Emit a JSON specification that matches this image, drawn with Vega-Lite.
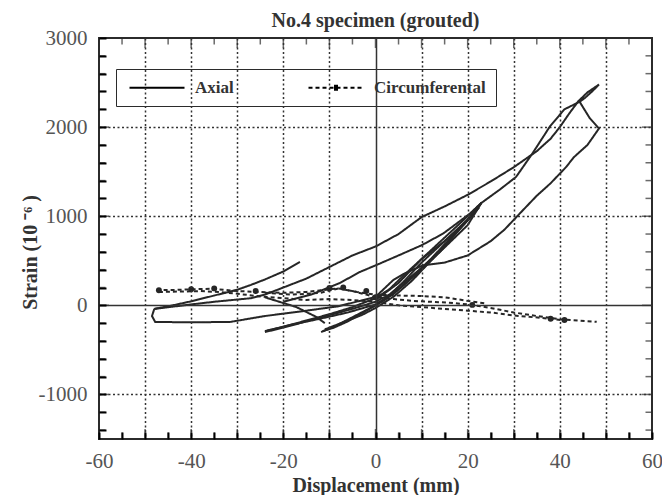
{
"$schema": "https://vega.github.io/schema/vega-lite/v6.json",
"width": 553, "height": 401,
"autosize": "none",
"padding": {"left": 99, "top": 38, "right": 10, "bottom": 56},
"background": "white",
"config": {"view": {"stroke": "#2b2b2b", "strokeWidth": 2}, "font": "Liberation Serif"},
"title": {"text": "No.4 specimen (grouted)", "font": "Liberation Serif", "fontSize": 20, "fontWeight": "bold", "color": "#333", "anchor": "middle", "offset": -4},
"datasets": {
"curves": [
{"s":"Axial","g":"a1","i":1,"x":-48,"y":-40},{"s":"Axial","g":"a1","i":2,"x":-44,"y":-15},{"s":"Axial","g":"a1","i":3,"x":-40,"y":10},{"s":"Axial","g":"a1","i":4,"x":-35,"y":40},{"s":"Axial","g":"a1","i":5,"x":-30,"y":65},{"s":"Axial","g":"a1","i":6,"x":-27,"y":80},{"s":"Axial","g":"a1","i":7,"x":-24,"y":120},{"s":"Axial","g":"a1","i":8,"x":-20,"y":200},{"s":"Axial","g":"a1","i":9,"x":-15,"y":300},{"s":"Axial","g":"a1","i":10,"x":-10,"y":430},{"s":"Axial","g":"a1","i":11,"x":-5,"y":560},{"s":"Axial","g":"a1","i":12,"x":0,"y":660},{"s":"Axial","g":"a1","i":13,"x":5,"y":800},{"s":"Axial","g":"a1","i":14,"x":10,"y":990},{"s":"Axial","g":"a1","i":15,"x":15,"y":1110},{"s":"Axial","g":"a1","i":16,"x":20,"y":1240},{"s":"Axial","g":"a1","i":17,"x":25,"y":1390},{"s":"Axial","g":"a1","i":18,"x":30,"y":1550},{"s":"Axial","g":"a1","i":19,"x":35,"y":1730},{"s":"Axial","g":"a1","i":20,"x":38,"y":1870},{"s":"Axial","g":"a1","i":21,"x":40,"y":2000},{"s":"Axial","g":"a1","i":22,"x":42,"y":2150},{"s":"Axial","g":"a1","i":23,"x":44,"y":2290},{"s":"Axial","g":"a1","i":24,"x":46,"y":2390},{"s":"Axial","g":"a1","i":25,"x":48.5,"y":2478},{"s":"Axial","g":"a1","i":26,"x":47,"y":2400},{"s":"Axial","g":"a1","i":27,"x":45.5,"y":2330},{"s":"Axial","g":"a1","i":28,"x":44.3,"y":2284},{"s":"Axial","g":"a1","i":29,"x":46.5,"y":2100},{"s":"Axial","g":"a1","i":30,"x":48.5,"y":1985},{"s":"Axial","g":"a1","i":31,"x":46,"y":1800},{"s":"Axial","g":"a1","i":32,"x":43,"y":1660},{"s":"Axial","g":"a1","i":33,"x":41.4,"y":1554},{"s":"Axial","g":"a1","i":34,"x":38,"y":1370},{"s":"Axial","g":"a1","i":35,"x":35,"y":1230},{"s":"Axial","g":"a1","i":36,"x":31.3,"y":1030},{"s":"Axial","g":"a1","i":37,"x":28,"y":850},{"s":"Axial","g":"a1","i":38,"x":25,"y":720},{"s":"Axial","g":"a1","i":39,"x":20,"y":560},{"s":"Axial","g":"a1","i":40,"x":15,"y":480},{"s":"Axial","g":"a1","i":41,"x":10.3,"y":449},{"s":"Axial","g":"a1","i":42,"x":6,"y":350},{"s":"Axial","g":"a1","i":43,"x":3.8,"y":281},{"s":"Axial","g":"a1","i":44,"x":0,"y":94},{"s":"Axial","g":"a1","i":45,"x":-8,"y":-10},{"s":"Axial","g":"a1","i":46,"x":-16.4,"y":-70},{"s":"Axial","g":"a1","i":47,"x":-24,"y":-120},{"s":"Axial","g":"a1","i":48,"x":-31.6,"y":-187},{"s":"Axial","g":"a1","i":49,"x":-40,"y":-190},{"s":"Axial","g":"a1","i":50,"x":-47.8,"y":-187},{"s":"Axial","g":"a1","i":51,"x":-48.5,"y":-120},{"s":"Axial","g":"a1","i":52,"x":-48,"y":-40},
{"s":"Axial","g":"a2","i":1,"x":-48,"y":-40},{"s":"Axial","g":"a2","i":2,"x":-44,"y":0},{"s":"Axial","g":"a2","i":3,"x":-40,"y":45},{"s":"Axial","g":"a2","i":4,"x":-35,"y":110},{"s":"Axial","g":"a2","i":5,"x":-30,"y":175},{"s":"Axial","g":"a2","i":6,"x":-27,"y":230},{"s":"Axial","g":"a2","i":7,"x":-24,"y":290},{"s":"Axial","g":"a2","i":8,"x":-20,"y":380},{"s":"Axial","g":"a2","i":9,"x":-16.4,"y":487},
{"s":"Axial","g":"a3","i":1,"x":0,"y":60},{"s":"Axial","g":"a3","i":2,"x":5,"y":250},{"s":"Axial","g":"a3","i":3,"x":10,"y":520},{"s":"Axial","g":"a3","i":4,"x":15,"y":760},{"s":"Axial","g":"a3","i":5,"x":20,"y":1000},{"s":"Axial","g":"a3","i":6,"x":23,"y":1150},{"s":"Axial","g":"a3","i":7,"x":27,"y":1300},{"s":"Axial","g":"a3","i":8,"x":30.5,"y":1441},{"s":"Axial","g":"a3","i":9,"x":34,"y":1700},{"s":"Axial","g":"a3","i":10,"x":37.8,"y":2004},{"s":"Axial","g":"a3","i":11,"x":41,"y":2200},{"s":"Axial","g":"a3","i":12,"x":44.3,"y":2284},
{"s":"Axial","g":"a4","i":1,"x":-20,"y":40},{"s":"Axial","g":"a4","i":2,"x":-14,"y":120},{"s":"Axial","g":"a4","i":3,"x":-7.8,"y":249},{"s":"Axial","g":"a4","i":4,"x":-3.4,"y":374},{"s":"Axial","g":"a4","i":5,"x":0.9,"y":468},{"s":"Axial","g":"a4","i":6,"x":5,"y":560},{"s":"Axial","g":"a4","i":7,"x":10,"y":674},{"s":"Axial","g":"a4","i":8,"x":14.7,"y":806},{"s":"Axial","g":"a4","i":9,"x":20.5,"y":1030},{"s":"Axial","g":"a4","i":10,"x":23,"y":1150},
{"s":"Axial","g":"a5","i":1,"x":-24,"y":90},{"s":"Axial","g":"a5","i":2,"x":-17.2,"y":-19},{"s":"Axial","g":"a5","i":3,"x":-12.8,"y":-131},{"s":"Axial","g":"a5","i":4,"x":-11,"y":-200},
{"s":"Axial","g":"b1","i":1,"x":-24,"y":-300},{"s":"Axial","g":"b1","i":2,"x":-20,"y":-250},{"s":"Axial","g":"b1","i":3,"x":-15,"y":-180},{"s":"Axial","g":"b1","i":4,"x":-10,"y":-110},{"s":"Axial","g":"b1","i":5,"x":-5,"y":-40},{"s":"Axial","g":"b1","i":6,"x":0,"y":40},{"s":"Axial","g":"b1","i":7,"x":3,"y":120},{"s":"Axial","g":"b1","i":8,"x":6,"y":250},{"s":"Axial","g":"b1","i":9,"x":10,"y":420},{"s":"Axial","g":"b1","i":10,"x":15,"y":650},{"s":"Axial","g":"b1","i":11,"x":20,"y":900},{"s":"Axial","g":"b1","i":12,"x":23,"y":1150},
{"s":"Axial","g":"b2","i":1,"x":23,"y":1150},{"s":"Axial","g":"b2","i":2,"x":20,"y":960},{"s":"Axial","g":"b2","i":3,"x":15,"y":720},{"s":"Axial","g":"b2","i":4,"x":10,"y":520},{"s":"Axial","g":"b2","i":5,"x":6,"y":330},{"s":"Axial","g":"b2","i":6,"x":3,"y":180},{"s":"Axial","g":"b2","i":7,"x":0,"y":80},{"s":"Axial","g":"b2","i":8,"x":-5,"y":-20},{"s":"Axial","g":"b2","i":9,"x":-10,"y":-100},{"s":"Axial","g":"b2","i":10,"x":-15,"y":-170},{"s":"Axial","g":"b2","i":11,"x":-20,"y":-240},{"s":"Axial","g":"b2","i":12,"x":-24,"y":-290},
{"s":"Axial","g":"b3","i":1,"x":-23.5,"y":-285},{"s":"Axial","g":"b3","i":2,"x":-18,"y":-215},{"s":"Axial","g":"b3","i":3,"x":-12,"y":-150},{"s":"Axial","g":"b3","i":4,"x":-6,"y":-80},{"s":"Axial","g":"b3","i":5,"x":0,"y":10},{"s":"Axial","g":"b3","i":6,"x":4,"y":130},{"s":"Axial","g":"b3","i":7,"x":8,"y":320},{"s":"Axial","g":"b3","i":8,"x":12,"y":520},{"s":"Axial","g":"b3","i":9,"x":16,"y":740},{"s":"Axial","g":"b3","i":10,"x":20,"y":950},{"s":"Axial","g":"b3","i":11,"x":22.5,"y":1100},
{"s":"Axial","g":"b4","i":1,"x":-11.8,"y":-300},{"s":"Axial","g":"b4","i":2,"x":-9,"y":-240},{"s":"Axial","g":"b4","i":3,"x":-6,"y":-160},{"s":"Axial","g":"b4","i":4,"x":-3,"y":-80},{"s":"Axial","g":"b4","i":5,"x":0,"y":0},{"s":"Axial","g":"b4","i":6,"x":3,"y":110},{"s":"Axial","g":"b4","i":7,"x":6,"y":260},{"s":"Axial","g":"b4","i":8,"x":10,"y":480},{"s":"Axial","g":"b4","i":9,"x":15,"y":720},{"s":"Axial","g":"b4","i":10,"x":20,"y":960},{"s":"Axial","g":"b4","i":11,"x":22,"y":1080},
{"s":"Axial","g":"b5","i":1,"x":22,"y":1080},{"s":"Axial","g":"b5","i":2,"x":18,"y":840},{"s":"Axial","g":"b5","i":3,"x":14,"y":600},{"s":"Axial","g":"b5","i":4,"x":10,"y":400},{"s":"Axial","g":"b5","i":5,"x":6,"y":220},{"s":"Axial","g":"b5","i":6,"x":2,"y":60},{"s":"Axial","g":"b5","i":7,"x":0,"y":0},{"s":"Axial","g":"b5","i":8,"x":-3,"y":-90},{"s":"Axial","g":"b5","i":9,"x":-6,"y":-180},{"s":"Axial","g":"b5","i":10,"x":-9,"y":-250},{"s":"Axial","g":"b5","i":11,"x":-11.5,"y":-290},
{"s":"Axial","g":"b6","i":1,"x":-11,"y":-270},{"s":"Axial","g":"b6","i":2,"x":-7,"y":-190},{"s":"Axial","g":"b6","i":3,"x":-3,"y":-110},{"s":"Axial","g":"b6","i":4,"x":0,"y":-30},{"s":"Axial","g":"b6","i":5,"x":4,"y":100},{"s":"Axial","g":"b6","i":6,"x":8,"y":280},{"s":"Axial","g":"b6","i":7,"x":12,"y":500},{"s":"Axial","g":"b6","i":8,"x":17,"y":780},{"s":"Axial","g":"b6","i":9,"x":21,"y":1020},
{"s":"Circumferental","g":"c1","i":1,"x":-47.5,"y":170},{"s":"Circumferental","g":"c1","i":2,"x":-44,"y":172},{"s":"Circumferental","g":"c1","i":3,"x":-40,"y":180},{"s":"Circumferental","g":"c1","i":4,"x":-36,"y":185},{"s":"Circumferental","g":"c1","i":5,"x":-33,"y":175},{"s":"Circumferental","g":"c1","i":6,"x":-30,"y":160},{"s":"Circumferental","g":"c1","i":7,"x":-25,"y":150},{"s":"Circumferental","g":"c1","i":8,"x":-20,"y":140},{"s":"Circumferental","g":"c1","i":9,"x":-15,"y":150},{"s":"Circumferental","g":"c1","i":10,"x":-10,"y":180},{"s":"Circumferental","g":"c1","i":11,"x":-8,"y":190},{"s":"Circumferental","g":"c1","i":12,"x":-5,"y":160},{"s":"Circumferental","g":"c1","i":13,"x":-2,"y":120},{"s":"Circumferental","g":"c1","i":14,"x":0,"y":90},{"s":"Circumferental","g":"c1","i":15,"x":4,"y":70},{"s":"Circumferental","g":"c1","i":16,"x":8,"y":50},{"s":"Circumferental","g":"c1","i":17,"x":12,"y":40},{"s":"Circumferental","g":"c1","i":18,"x":16,"y":30},{"s":"Circumferental","g":"c1","i":19,"x":21,"y":5},{"s":"Circumferental","g":"c1","i":20,"x":25,"y":-30},{"s":"Circumferental","g":"c1","i":21,"x":30,"y":-80},{"s":"Circumferental","g":"c1","i":22,"x":35,"y":-120},{"s":"Circumferental","g":"c1","i":23,"x":40,"y":-155},{"s":"Circumferental","g":"c1","i":24,"x":44,"y":-170},{"s":"Circumferental","g":"c1","i":25,"x":48,"y":-185},
{"s":"Circumferental","g":"c2","i":1,"x":-47,"y":150},{"s":"Circumferental","g":"c2","i":2,"x":-42,"y":155},{"s":"Circumferental","g":"c2","i":3,"x":-38,"y":160},{"s":"Circumferental","g":"c2","i":4,"x":-34,"y":150},{"s":"Circumferental","g":"c2","i":5,"x":-30,"y":130},{"s":"Circumferental","g":"c2","i":6,"x":-25,"y":100},{"s":"Circumferental","g":"c2","i":7,"x":-20,"y":80},{"s":"Circumferental","g":"c2","i":8,"x":-15,"y":60},{"s":"Circumferental","g":"c2","i":9,"x":-10,"y":70},{"s":"Circumferental","g":"c2","i":10,"x":-5,"y":60},{"s":"Circumferental","g":"c2","i":11,"x":0,"y":40},{"s":"Circumferental","g":"c2","i":12,"x":5,"y":0},{"s":"Circumferental","g":"c2","i":13,"x":10,"y":-20},{"s":"Circumferental","g":"c2","i":14,"x":15,"y":-40},{"s":"Circumferental","g":"c2","i":15,"x":20,"y":-60},{"s":"Circumferental","g":"c2","i":16,"x":25,"y":-80},{"s":"Circumferental","g":"c2","i":17,"x":31,"y":-120},{"s":"Circumferental","g":"c2","i":18,"x":36,"y":-140},{"s":"Circumferental","g":"c2","i":19,"x":41,"y":-170},
{"s":"Circumferental","g":"c3","i":1,"x":-24,"y":140},{"s":"Circumferental","g":"c3","i":2,"x":-18,"y":120},{"s":"Circumferental","g":"c3","i":3,"x":-12,"y":140},{"s":"Circumferental","g":"c3","i":4,"x":-8,"y":190},{"s":"Circumferental","g":"c3","i":5,"x":-4,"y":150},{"s":"Circumferental","g":"c3","i":6,"x":0,"y":120},{"s":"Circumferental","g":"c3","i":7,"x":5,"y":110},{"s":"Circumferental","g":"c3","i":8,"x":10,"y":105},{"s":"Circumferental","g":"c3","i":9,"x":15,"y":90},{"s":"Circumferental","g":"c3","i":10,"x":20,"y":50},{"s":"Circumferental","g":"c3","i":11,"x":24,"y":20}
],
"markers": [
{"x":-47,"y":170},{"x":-40,"y":180},{"x":-35,"y":190},{"x":-26,"y":160},{"x":-10,"y":195},{"x":-7,"y":200},{"x":-2,"y":160},{"x":0,"y":90},{"x":21,"y":5},{"x":38,"y":-150},{"x":41,"y":-165}
],
"legendItems": [{"s":"Axial"},{"s":"Circumferental"}],
"xticks": [{"v":-55},{"v":-50},{"v":-45},{"v":-40},{"v":-35},{"v":-30},{"v":-25},{"v":-20},{"v":-15},{"v":-10},{"v":-5},{"v":0},{"v":5},{"v":10},{"v":15},{"v":20},{"v":25},{"v":30},{"v":35},{"v":40},{"v":45},{"v":50},{"v":55}],
"yticks": [{"v":-1400},{"v":-1200},{"v":-1000},{"v":-800},{"v":-600},{"v":-400},{"v":-200},{"v":0},{"v":200},{"v":400},{"v":600},{"v":800},{"v":1000},{"v":1200},{"v":1400},{"v":1600},{"v":1800},{"v":2000},{"v":2200},{"v":2400},{"v":2600},{"v":2800}]
},
"layer": [
{
"data": {"name": "curves"},
"mark": {"type": "line", "color": "#262626", "strokeWidth": 2},
"encoding": {
"x": {"field": "x", "type": "quantitative", "scale": {"domain": [-60, 60], "nice": false, "zero": false},
 "axis": {"orient": "bottom", "zindex": 1, "values": [-60,-55,-50,-45,-40,-35,-30,-25,-20,-15,-10,-5,0,5,10,15,20,25,30,35,40,45,50,55,60],
  "title": "Displacement (mm)", "titleFont": "Liberation Serif", "titleFontSize": 20, "titleFontWeight": "bold", "titleColor": "#333", "titlePadding": 4,
  "labelFont": "Liberation Serif", "labelFontSize": 21, "labelColor": "#555", "labelExpr": "datum.value % 20 === 0 ? '' + datum.value : ''", "labelPadding": 18, "labelFlush": false,
  "ticks": true, "tickSize": -7, "tickColor": "black", "tickWidth": 2, "tickOpacity": 1,
  "domain": false, "grid": true, "gridColor": "#333", "gridWidth": 1.5,
  "gridDash": {"condition": {"test": "datum.value === 0", "value": [1, 0]}, "value": [2, 2.5]},
  "gridOpacity": {"condition": {"test": "datum.value % 10 === 0 && abs(datum.value) < 60", "value": 1}, "value": 0}}},
"y": {"field": "y", "type": "quantitative", "scale": {"domain": [-1500, 3000], "nice": false, "zero": false},
 "axis": {"orient": "left", "zindex": 1, "values": [-1400,-1200,-1000,-800,-600,-400,-200,0,200,400,600,800,1000,1200,1400,1600,1800,2000,2200,2400,2600,2800,3000],
  "title": "Strain (10 ⁻⁶ )", "titleFont": "Liberation Serif", "titleFontSize": 20, "titleFontWeight": "bold", "titleColor": "#333", "titleX": -59, "titleY": 214,
  "labelFont": "Liberation Serif", "labelFontSize": 21, "labelColor": "#555", "labelExpr": "datum.value % 1000 === 0 ? '' + datum.value : ''", "labelPadding": 19, "labelFlush": false,
  "ticks": true, "tickSize": -7, "tickColor": "black", "tickWidth": 2, "tickOpacity": 1,
  "domain": false, "grid": true, "gridColor": "#333", "gridWidth": 1.5,
  "gridDash": {"condition": {"test": "datum.value === 0", "value": [1, 0]}, "value": [2, 2.5]},
  "gridOpacity": {"condition": {"test": "datum.value % 1000 === 0 && datum.value < 3000", "value": 1}, "value": 0}}},
"detail": {"field": "g", "type": "nominal"},
"order": {"field": "i", "type": "quantitative"},
"strokeDash": {"field": "s", "type": "nominal", "scale": {"domain": ["Axial", "Circumferental"], "range": [[1, 0], [4, 3]]},
 "legend": {"orient": "none", "legendX": 17, "legendY": 31, "direction": "horizontal", "title": null, "padding": 10,
  "strokeColor": "#2b2b2b", "fillColor": "white",
  "labelFont": "Liberation Serif", "labelFontSize": 17, "labelFontWeight": "bold", "labelColor": "#333", "labelOffset": 52,
  "columnPadding": 70, "symbolSize": 100, "symbolStrokeWidth": 2, "symbolStrokeColor": "black", "symbolFillColor": "#262626", "symbolOpacity": 1, "symbolDash": [1, 0]}}
}
},
{
"data": {"name": "markers"},
"mark": {"type": "point", "filled": true, "color": "#262626", "size": 35, "opacity": 1},
"encoding": {
"x": {"field": "x", "type": "quantitative", "axis": null},
"y": {"field": "y", "type": "quantitative", "axis": null}
}
},
{
"data": {"name": "xticks"},
"mark": {"type": "tick", "orient": "vertical", "thickness": 1.5, "color": "#2b2b2b", "clip": true},
"encoding": {
"x": {"field": "v", "type": "quantitative", "axis": null},
"y": {"datum": -1500, "type": "quantitative", "axis": null},
"size": {"condition": {"test": "datum.v % 10 === 0", "value": 20}, "value": 13}
}
},
{
"data": {"name": "xticks"},
"mark": {"type": "tick", "orient": "vertical", "thickness": 1.5, "color": "#2b2b2b", "clip": true},
"encoding": {
"x": {"field": "v", "type": "quantitative", "axis": null},
"y": {"datum": 3000, "type": "quantitative", "axis": null},
"size": {"condition": {"test": "datum.v % 10 === 0", "value": 20}, "value": 13}
}
},
{
"data": {"name": "yticks"},
"mark": {"type": "tick", "orient": "horizontal", "thickness": 1.5, "color": "#2b2b2b", "clip": true},
"encoding": {
"y": {"field": "v", "type": "quantitative", "axis": null},
"x": {"datum": -60, "type": "quantitative", "axis": null},
"size": {"condition": {"test": "datum.v % 1000 === 0", "value": 20}, "value": 13}
}
},
{
"data": {"name": "yticks"},
"mark": {"type": "tick", "orient": "horizontal", "thickness": 1.5, "color": "#2b2b2b", "clip": true},
"encoding": {
"y": {"field": "v", "type": "quantitative", "axis": null},
"x": {"datum": 60, "type": "quantitative", "axis": null},
"size": {"condition": {"test": "datum.v % 1000 === 0", "value": 20}, "value": 13}
}
},
{
"data": {"name": "legendItems"},
"mark": {"type": "point", "filled": false, "opacity": 0, "size": 100, "stroke": "#262626", "strokeWidth": 1.5},
"encoding": {
"x": {"datum": 0, "type": "quantitative", "axis": null},
"y": {"datum": 0, "type": "quantitative", "axis": null},
"shape": {"field": "s", "type": "nominal",
 "scale": {"domain": ["Axial", "Circumferental"], "range": ["M-1,0H10", "M-1,0H10M4.1,-0.4H4.9M4.1,-0.15H4.9M4.1,0.15H4.9M4.1,0.4H4.9"]},
 "legend": {"orient": "none", "legendX": 17, "legendY": 31, "direction": "horizontal", "title": null, "padding": 10,
  "strokeColor": "#2b2b2b", "fillColor": "white",
  "labelFont": "Liberation Serif", "labelFontSize": 17, "labelFontWeight": "bold", "labelColor": "#333", "labelOffset": 52,
  "columnPadding": 70, "symbolSize": 100, "symbolStrokeWidth": 2, "symbolStrokeColor": "black", "symbolFillColor": "#262626", "symbolOpacity": 1, "symbolDash": [1, 0]}}
}
}
],
"resolve": {"axis": {"x": "independent", "y": "independent"}}
}
